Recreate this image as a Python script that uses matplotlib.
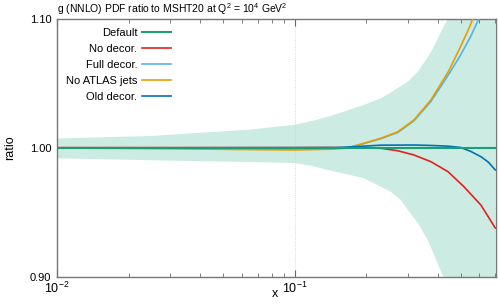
import numpy as np
import matplotlib
matplotlib.use("Agg")
import matplotlib.pyplot as plt
from matplotlib.ticker import LogLocator, NullFormatter, FixedLocator

plt.rcParams['font.family'] = ['Liberation Sans', 'DejaVu Sans']
plt.rcParams['mathtext.fontset'] = 'custom'
plt.rcParams['mathtext.rm'] = 'Liberation Sans'

# MSHT20 uncertainty band
band_x = [0.01, 0.0247, 0.0652, 0.1, 0.119, 0.142, 0.195, 0.2307, 0.254, 0.28, 0.30, 0.33,
          0.345, 0.363, 0.383, 0.414, 0.424, 0.444, 0.5, 0.6, 0.7]
band_hi = [1.0074, 1.0093, 1.0143, 1.018, 1.021, 1.0248, 1.0333, 1.0385, 1.043, 1.048, 1.0514, 1.059,
           1.0643, 1.070, 1.0773, 1.0902, 1.094, 1.1006, 1.13, 1.2, 1.3]
band_lo = [0.992, 0.9905, 0.9891, 0.9884, 0.986, 0.9824, 0.9767, 0.970, 0.9661, 0.9597, 0.952, 0.9419,
           0.936, 0.929, 0.919, 0.904, 0.90, 0.89, 0.85, 0.78, 0.7]

# fit ratios
default_x = [0.01, 0.7]
default_r = [1.0, 1.0]

nodecor_x = [0.01, 0.1, 0.142, 0.195, 0.2307, 0.2716, 0.318, 0.375, 0.443, 0.5165, 0.609, 0.7]
nodecor_r = [1.0003, 1.0003, 1.0004, 1.0, 0.9998, 0.9979, 0.9946, 0.9894, 0.9816, 0.970, 0.9558, 0.938]

full_x = [0.01, 0.03, 0.06, 0.1, 0.14, 0.167, 0.195, 0.2307, 0.272, 0.318, 0.375, 0.444, 0.5, 0.55, 0.6, 0.7]
full_r = [1.0, 0.9997, 0.9992, 0.999, 0.9993, 1.0, 1.0033, 1.0072, 1.012, 1.021, 1.036, 1.0566, 1.072, 1.086, 1.101, 1.14]

noatlas_x = [0.01, 0.03, 0.06, 0.1, 0.14, 0.167, 0.195, 0.2307, 0.272, 0.318, 0.375, 0.444, 0.5, 0.55, 0.6, 0.7]
noatlas_r = [1.0, 0.9995, 0.9988, 0.9985, 0.999, 1.0, 1.0036, 1.0075, 1.0126, 1.0217, 1.0372, 1.0591, 1.0785, 1.0953, 1.115, 1.16]

old_x = [0.01, 0.15, 0.2, 0.2307, 0.318, 0.375, 0.444, 0.5, 0.55, 0.609, 0.655, 0.7]
old_r = [1.0, 1.0003, 1.0015, 1.0022, 1.0023, 1.002, 1.0014, 1.0004, 0.9975, 0.9933, 0.989, 0.983]

fig = plt.figure(figsize=(4.98, 3.04), dpi=100)
ax = fig.add_axes([57/498, 1 - 277/304, 439/498, 258/304])

ax.fill_between(band_x, band_lo, band_hi, color='#009E73', alpha=0.2, lw=0)
ax.plot(nodecor_x, nodecor_r, color='#e3211c', lw=1.2, label='No decor.', zorder=3)
ax.plot(full_x, full_r, color='#56B4E9', lw=1.2, label='Full decor.', zorder=3)
ax.plot(noatlas_x, noatlas_r, color='#E69F00', lw=1.2, label='No ATLAS jets', zorder=3)
ax.plot(old_x, old_r, color='#0072B2', lw=1.2, label='Old decor.', zorder=3)
ax.plot(default_x, default_r, color='#1a9e76', lw=1.5, label='Default', zorder=4)

ax.set_xscale('log')
ax.set_xlim(0.01, 0.705)
ax.set_ylim(0.90, 1.10)

ax.xaxis.set_major_locator(FixedLocator([0.01, 0.1]))
ax.xaxis.set_minor_locator(LogLocator(base=10, subs=np.arange(2, 10)))
ax.xaxis.set_minor_formatter(NullFormatter())
ax.set_xticklabels([r'10$^{\mathregular{-2}}$', r'10$^{\mathregular{-1}}$'], fontsize=9)
ax.set_yticks([0.90, 1.00, 1.10])
ax.set_yticklabels(['0.90', '1.00', '1.10'], fontsize=8)
ax.tick_params(axis='x', which='both', direction='in', top=True, color='#666666', pad=3)
ax.tick_params(axis='x', which='major', length=5)
ax.tick_params(axis='x', which='minor', length=3)
ax.tick_params(axis='y', length=0, pad=4)
ax.grid(True, axis='x', which='major', color='#cccccc', ls=':', lw=0.6)

for s in ax.spines.values():
    s.set_color('#777777')
    s.set_linewidth(1.0)

ax.set_xlabel('x', fontsize=9, va='center', ha='center')
ax.xaxis.set_label_coords(0.497, -0.064)
ax.set_ylabel('ratio', fontsize=9, labelpad=10)
ax.set_title(r'g (NNLO) PDF ratio to MSHT20 at Q$^{\mathregular{2}}$ = 10$^{\mathregular{4}}$ GeV$^{\mathregular{2}}$',
             fontsize=7.5, loc='left', pad=4)

h, l = ax.get_legend_handles_labels()
order = [4, 0, 1, 2, 3]
ax.legend([h[i] for i in order], [l[i] for i in order], loc='upper left', frameon=False,
          markerfirst=False, fontsize=8, handlelength=2.6, handletextpad=0.45,
          labelspacing=0.55, bbox_to_anchor=(0.0, 1.0), borderaxespad=0.4)

fig.savefig('out.png', dpi=100)
